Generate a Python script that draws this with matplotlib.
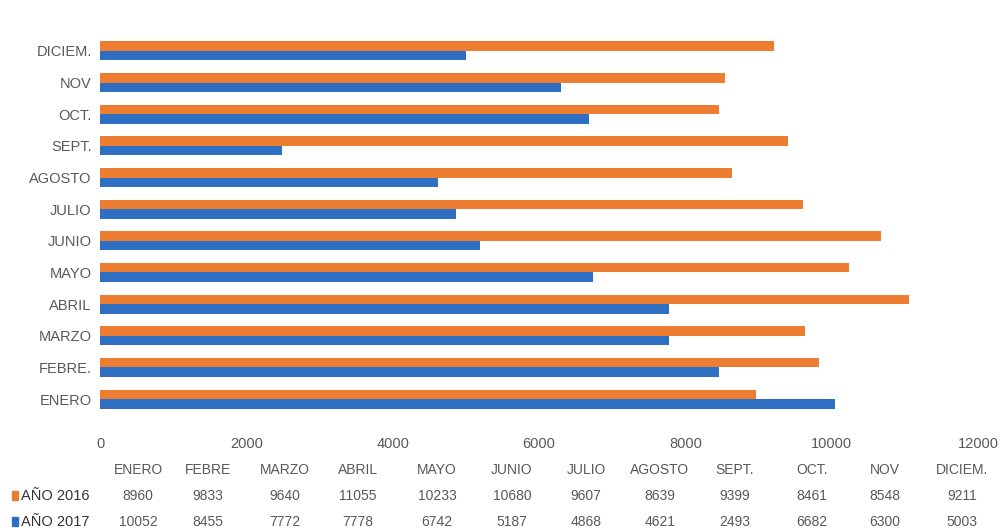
import numpy as np
import matplotlib
matplotlib.use("Agg")
import matplotlib.pyplot as plt

meses = ["ENERO", "FEBRE.", "MARZO", "ABRIL", "MAYO", "JUNIO", "JULIO",
         "AGOSTO", "SEPT.", "OCT.", "NOV", "DICIEM."]
meses_tabla = ["ENERO", "FEBRE", "MARZO", "ABRIL", "MAYO", "JUNIO", "JULIO",
               "AGOSTO", "SEPT.", "OCT.", "NOV", "DICIEM."]
anio_2016 = [8960, 9833, 9640, 11055, 10233, 10680, 9607, 8639, 9399, 8461, 8548, 9211]
anio_2017 = [10052, 8455, 7772, 7778, 6742, 5187, 4868, 4621, 2493, 6682, 6300, 5003]
xticks = [0, 2000, 4000, 6000, 8000, 10000, 12000]

naranja = "#ED7D31"
azul = "#2E6FC4"
gris = "#595959"
plt.rcParams["font.family"] = ["Liberation Sans Narrow", "Liberation Sans", "DejaVu Sans"]

W, H = 1005, 531
fig = plt.figure(figsize=(W / 100, H / 100), dpi=100)
ax = fig.add_axes([100 / W, (H - 418) / H, 878 / W, 386 / H])

y = np.arange(len(meses))
h = 0.30
ax.barh(y + h / 2, anio_2016, height=h, color=naranja)
ax.barh(y - h / 2, anio_2017, height=h, color=azul)

ax.set_xlim(0, 12000)
ax.set_ylim(-0.6, len(meses) - 0.4)
ax.set_xticks(xticks)
ax.set_xticklabels([str(t) for t in xticks], color=gris, fontsize=10.5)
ax.set_yticks(y)
ax.set_yticklabels(meses, color=gris, fontsize=10.5)
ax.tick_params(length=0, pad=6)
ax.tick_params(axis="x", pad=14)
for s in ax.spines.values():
    s.set_visible(False)

# tabla de datos bajo el grafico
xcols = [138, 208, 285, 358, 437, 512, 586, 660, 735, 812, 885, 962]
for xc, m in zip(xcols, meses_tabla):
    fig.text(xc / W, 1 - 470 / H, m, ha="center", va="center", fontsize=10, color=gris)
filas = [("AÑO 2016", anio_2016, naranja, 496), ("AÑO 2017", anio_2017, azul, 522)]
for nombre, vals, col, yy in filas:
    fig.patches.append(plt.Rectangle((12 / W, 1 - (yy + 4) / H), 6 / W, 9 / H,
                                     transform=fig.transFigure, color=col))
    fig.text(21 / W, 1 - yy / H, nombre, ha="left", va="center", fontsize=10.5, color="#333333")
    for xc, v in zip(xcols, vals):
        fig.text(xc / W, 1 - yy / H, str(v), ha="center", va="center", fontsize=10, color=gris)

fig.savefig("out.png", dpi=100)
